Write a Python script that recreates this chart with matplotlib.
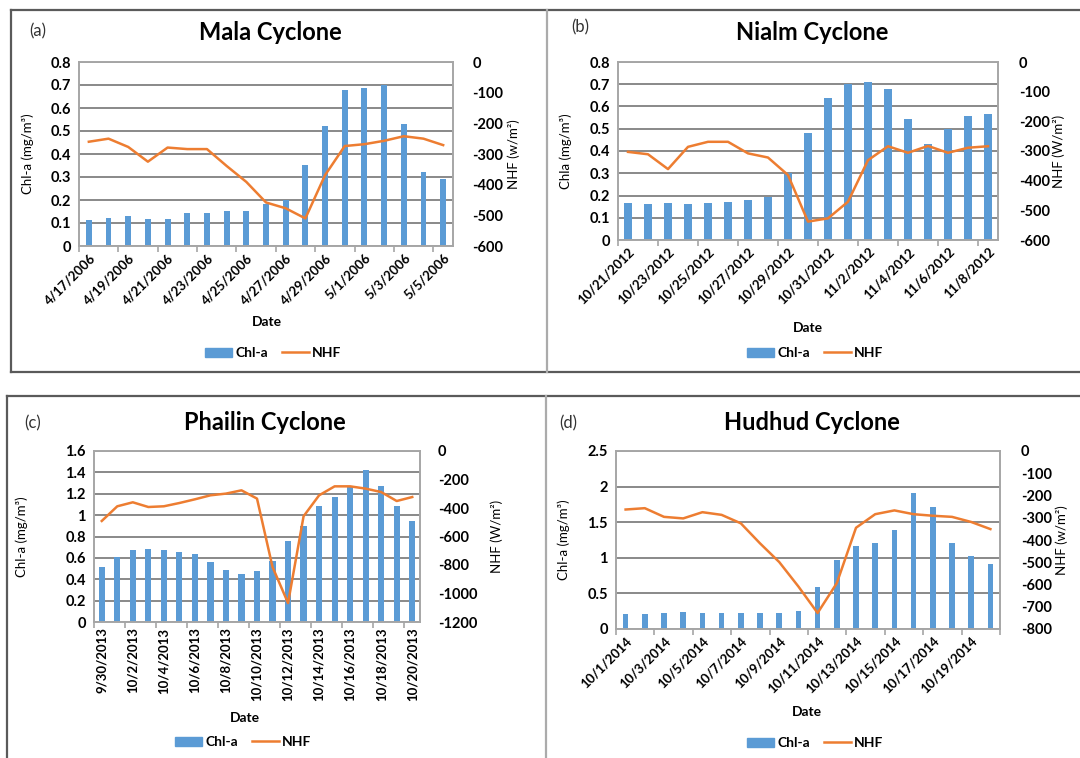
import numpy as np
import matplotlib
matplotlib.use("Agg")
import matplotlib.pyplot as plt
from matplotlib.lines import Line2D
from matplotlib.patches import Patch
from matplotlib.ticker import FuncFormatter

plt.rcParams['font.family'] = ['Lato', 'DejaVu Sans']

W, H = 1080, 758

# ---------------- data ----------------
a_dates = ["4/17/2006", "4/18/2006", "4/19/2006", "4/20/2006", "4/21/2006", "4/22/2006",
           "4/23/2006", "4/24/2006", "4/25/2006", "4/26/2006", "4/27/2006", "4/28/2006",
           "4/29/2006", "4/30/2006", "5/1/2006", "5/2/2006", "5/3/2006", "5/4/2006", "5/5/2006"]
a_chl = [0.111, 0.122, 0.13, 0.117, 0.117, 0.145, 0.145, 0.153, 0.153, 0.182, 0.202,
         0.354, 0.521, 0.68, 0.689, 0.699, 0.53, 0.32, 0.29]
a_nhf = [-260, -250, -277, -325, -279, -284, -284, -339, -391, -458, -477, -510,
         -369, -274, -268, -257, -242, -250, -271]

b_dates = ["10/21/2012", "10/22/2012", "10/23/2012", "10/24/2012", "10/25/2012", "10/26/2012",
           "10/27/2012", "10/28/2012", "10/29/2012", "10/30/2012", "10/31/2012", "11/1/2012",
           "11/2/2012", "11/3/2012", "11/4/2012", "11/5/2012", "11/6/2012", "11/7/2012", "11/8/2012"]
b_chl = [0.165, 0.163, 0.167, 0.163, 0.167, 0.17, 0.178, 0.195, 0.30, 0.483,
         0.636, 0.703, 0.71, 0.679, 0.544, 0.43, 0.50, 0.558, 0.567]
b_nhf = [-303, -311, -361, -286, -269, -269, -308, -322, -381, -538,
         -527, -471, -331, -284, -306, -283, -306, -289, -284]

c_dates = ["9/30/2013", "10/1/2013", "10/2/2013", "10/3/2013", "10/4/2013", "10/5/2013",
           "10/6/2013", "10/7/2013", "10/8/2013", "10/9/2013", "10/10/2013", "10/11/2013",
           "10/12/2013", "10/13/2013", "10/14/2013", "10/15/2013", "10/16/2013", "10/17/2013",
           "10/18/2013", "10/19/2013", "10/20/2013"]
c_chl = [0.515, 0.605, 0.67, 0.683, 0.677, 0.658, 0.633, 0.558, 0.487, 0.452, 0.48,
         0.574, 0.755, 0.898, 1.089, 1.173, 1.276, 1.419, 1.273, 1.082, 0.945]
c_nhf = [-491, -388, -360, -393, -388, -365, -339, -311, -299, -276, -334,
         -814, -1067, -458, -311, -248, -248, -264, -288, -351, -323]

d_dates = ["10/1/2014", "10/2/2014", "10/3/2014", "10/4/2014", "10/5/2014", "10/6/2014",
           "10/7/2014", "10/8/2014", "10/9/2014", "10/10/2014", "10/11/2014", "10/12/2014",
           "10/13/2014", "10/14/2014", "10/15/2014", "10/16/2014", "10/17/2014", "10/18/2014",
           "10/19/2014", "10/20/2014"]
d_chl = [0.215, 0.215, 0.229, 0.243, 0.229, 0.229, 0.229, 0.229, 0.229, 0.252,
         0.588, 0.966, 1.171, 1.213, 1.39, 1.908, 1.707, 1.213, 1.031, 0.91]
d_nhf = [-263, -257, -296, -303, -275, -287, -325, -415, -499, -609,
         -728, -594, -345, -284, -267, -284, -291, -296, -319, -351]

BAR = "#5B9BD5"
LINE = "#ED7D31"

fig = plt.figure(figsize=(W / 100, H / 100), dpi=100)


def px_axes(l, t, r, b):
    return fig.add_axes([l / W, 1 - b / H, (r - l) / W, (b - t) / H])


fmt = FuncFormatter(lambda v, p: "{:g}".format(round(v, 3)))

panels = [
    dict(tag="(a)", title="Mala Cyclone", dates=a_dates, chl=a_chl, nhf=a_nhf,
         box=(79, 62, 453, 246), ylim=(0, 0.8), ystep=0.1, y2lim=(-600, 0), y2step=100,
         ylabel="Chl-a (mg/m³)", y2label="NHF (w/m²)", rot=45, bw=0.30,
         tagpos=(38, 31), titlepos=(270, 33), datepos=(267, 322), legpos=(273, 353),
         ylx=34, y2lx=507, y2tx=467),
    dict(tag="(b)", title="Nialm Cyclone", dates=b_dates, chl=b_chl, nhf=b_nhf,
         box=(618, 62, 998, 240), ylim=(0, 0.8), ystep=0.1, y2lim=(-600, 0), y2step=100,
         ylabel="Chla (mg/m³)", y2label="NHF (W/m²)", rot=45, bw=0.36,
         tagpos=(580, 27), titlepos=(812, 33), datepos=(808, 328), legpos=(815, 353),
         ylx=572, y2lx=1052, y2tx=1013),
    dict(tag="(c)", title="Phailin Cyclone", dates=c_dates, chl=c_chl, nhf=c_nhf,
         box=(94, 451, 420, 622), ylim=(0, 1.6), ystep=0.2, y2lim=(-1200, 0), y2step=200,
         ylabel="Chl-a (mg/m³)", y2label="NHF (W/m²)", rot=90, bw=0.40,
         tagpos=(33, 423), titlepos=(265, 422), datepos=(245, 718), legpos=(243, 742),
         ylx=28, y2lx=490, y2tx=433),
    dict(tag="(d)", title="Hudhud Cyclone", dates=d_dates, chl=d_chl, nhf=d_nhf,
         box=(616, 451, 1000, 629), ylim=(0, 2.5), ystep=0.5, y2lim=(-800, 0), y2step=100,
         ylabel="Chl-a (mg/m³)", y2label="NHF (w/m²)", rot=45, bw=0.30,
         tagpos=(568, 423), titlepos=(812, 422), datepos=(807, 712), legpos=(815, 743),
         ylx=570, y2lx=1055, y2tx=1015),
]

GRID = "#808080"
SPINE = "#a6a6a6"
TS = 9.5
YS = 10.5

for p in panels:
    l, t, r, b = p["box"]
    ax = px_axes(l, t, r, b)
    ax2 = ax.twinx()
    n = len(p["dates"])
    x = np.arange(n)
    ax.bar(x, p["chl"], width=p["bw"], color=BAR, zorder=2)
    ax2.plot(x, p["nhf"], color=LINE, lw=1.8, solid_joinstyle="round")
    ax.set_xlim(-0.5, n - 0.5)
    ax.set_ylim(*p["ylim"])
    ax2.set_ylim(*p["y2lim"])
    ax.set_yticks(np.arange(p["ylim"][0], p["ylim"][1] + 1e-9, p["ystep"]))
    ax2.set_yticks(np.arange(p["y2lim"][0], p["y2lim"][1] + 1e-9, p["y2step"]))
    ax.yaxis.set_major_formatter(fmt)
    ax2.yaxis.set_major_formatter(FuncFormatter(lambda v, q: "{:g}".format(v)))
    ax.set_axisbelow(True)
    ax.grid(axis="y", color=GRID, lw=1.3, zorder=0)
    ax.tick_params(axis="y", length=0, labelsize=YS, pad=6)
    ax2.tick_params(axis="y", length=0, labelsize=YS, pad=(p["y2tx"] - r))
    for lab in ax.get_yticklabels() + ax2.get_yticklabels():
        lab.set_fontweight("bold")
    # x ticks: labels at every second category, tick marks between categories
    ax.set_xticks(x[::2])
    ax.set_xticklabels(p["dates"][::2], fontsize=TS, fontweight="bold")
    ax.set_xticks(np.arange(-0.5, n, 2), minor=True)
    ax.tick_params(axis="x", which="major", length=0, pad=4)
    ax.tick_params(axis="x", which="minor", length=4, color=SPINE, width=1.2)
    if p["rot"] == 45:
        for lab in ax.get_xticklabels():
            lab.set_rotation(45)
            lab.set_ha("right")
            lab.set_va("top")
            lab.set_rotation_mode("anchor")
    else:
        for lab in ax.get_xticklabels():
            lab.set_rotation(90)
            lab.set_ha("center")
            lab.set_va("top")
    for a in (ax, ax2):
        for s in a.spines.values():
            s.set_color(SPINE)
            s.set_linewidth(1.2)
    # axis labels
    ax.set_ylabel(p["ylabel"], fontsize=9.5)
    ax.yaxis.set_label_coords((p["ylx"] - l) / (r - l), 0.5)
    ax2.set_ylabel(p["y2label"], fontsize=9.5)
    ax2.yaxis.set_label_coords((p["y2lx"] - l) / (r - l), 0.5)
    # texts
    fig.text(p["datepos"][0] / W, 1 - p["datepos"][1] / H, "Date", fontsize=10,
             fontweight="bold", ha="center", va="center")
    fig.text(p["titlepos"][0] / W, 1 - p["titlepos"][1] / H, p["title"], fontsize=17,
             fontweight="bold", ha="center", va="center")
    fig.text(p["tagpos"][0] / W, 1 - p["tagpos"][1] / H, p["tag"], fontsize=12,
             color="#333333", ha="center", va="center")
    handles = [Patch(color=BAR, label="Chl-a"), Line2D([], [], color=LINE, lw=1.8, label="NHF")]
    fig.legend(handles=handles, loc="center", ncol=2, frameon=False,
               bbox_to_anchor=(p["legpos"][0] / W, 1 - p["legpos"][1] / H),
               prop=dict(size=10, weight="bold"), handlelength=2.0, handleheight=0.6,
               handletextpad=0.2, columnspacing=1.0)


def fline(xs, ys, color, lw):
    fig.add_artist(Line2D([v / W for v in xs], [1 - v / H for v in ys],
                          transform=fig.transFigure, color=color, lw=lw))


DARK = "#5a5a5a"
LIGHT = "#ababab"
# upper frame
fline([11, 1080], [10, 10], DARK, 1.6)
fline([11, 1080], [372, 372], DARK, 1.6)
fline([11, 11], [10, 372], DARK, 1.6)
fline([547, 547], [10, 372], LIGHT, 1.6)
# lower frame
fline([7, 1080], [396, 396], DARK, 1.6)
fline([7, 7], [396, 758], DARK, 1.6)
fline([546, 546], [396, 758], LIGHT, 1.6)

fig.savefig("out.png", dpi=100)
